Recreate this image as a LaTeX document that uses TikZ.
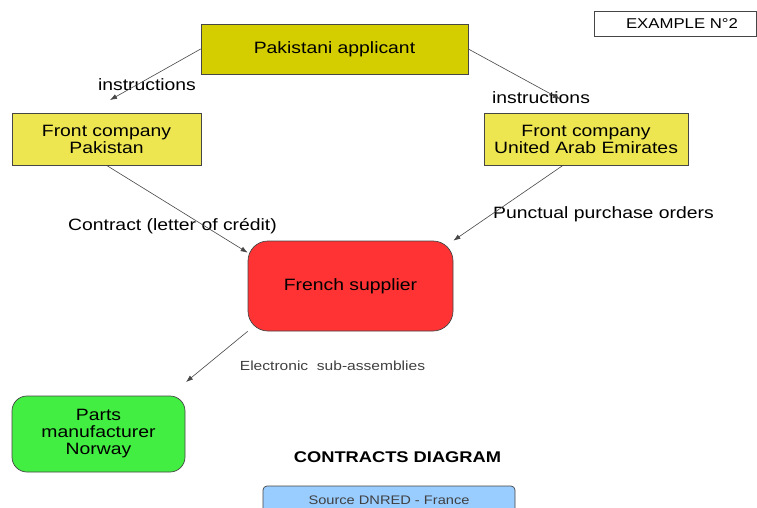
\documentclass[tikz,border=0pt]{standalone}
\usepackage{fontspec}
\setmainfont[FakeStretch=1.18]{Liberation Sans}
\usetikzlibrary{arrows.meta,calc}
\definecolor{olivey}{RGB}{212,206,0}
\definecolor{fcyel}{RGB}{237,230,80}
\definecolor{fsred}{RGB}{255,51,51}
\definecolor{pmgreen}{RGB}{66,238,66}
\definecolor{srcblue}{RGB}{153,204,255}
\definecolor{edge}{RGB}{70,70,70}
\tikzset{
  box/.style={draw=edge, line width=0.7pt, inner sep=0pt, align=center,
    font=\fontsize{16.4}{17}\selectfont},
  lbl/.style={inner sep=0pt, font=\fontsize{16.4}{17}\selectfont},
  conn/.style={draw=edge, line width=0.6pt, -{Latex[length=7pt,width=5pt]}}
}
\begin{document}
\begin{tikzpicture}[x=1pt,y=-1pt]
\useasboundingbox (0,0) rectangle (757,508);
\fill[white] (0,0) rectangle (757,508);
% example box
\node[box, minimum width=162pt, minimum height=25pt, font=\fontsize{14.2}{15}\selectfont] (ex) at (675,23.5) {\hspace*{14pt}EXAMPLE N°2};
% main nodes
\node[box, fill=olivey, minimum width=267pt, minimum height=50pt] (pa) at (334.5,49) {Pakistani applicant};
\node[box, fill=fcyel, minimum width=189pt, minimum height=52pt] (fcp) at (106.5,139) {Front company\\Pakistan};
\node[box, fill=fcyel, minimum width=204pt, minimum height=52pt] (uae) at (586,139) {Front company\\United Arab Emirates};
\node[box, fill=fsred, rounded corners=20pt, minimum width=205pt, minimum height=90pt] (fs) at (350.5,286) {French supplier};
\node[box, fill=pmgreen, rounded corners=15pt, minimum width=173pt, minimum height=76pt] (pm) at (98.5,434) {Parts\\manufacturer\\Norway};
\node[box, fill=srcblue, rounded corners=4pt, minimum width=252pt, minimum height=28pt, text=black!75, font=\fontsize{12.4}{13}\selectfont] (src) at (389,500) {Source DNRED - France};
% free ends
\coordinate (i1) at (110,100);
\coordinate (i2) at (560,99);
\coordinate (pmin) at (186,382);
% labels
\node[lbl] (l1) at (147,85) {instructions};
\node[lbl] (l2) at (541,98) {instructions};
\node[lbl] (l3) at (172.5,226) {Contract (letter of crédit)};
\node[lbl] (l4) at (603.5,214) {Punctual purchase orders};
\node[lbl, text=black!75, font=\fontsize{13.2}{14}\selectfont] (l5) at (332.5,366) {Electronic\ \ sub-assemblies};
\node[lbl, font=\bfseries\fontsize{15.5}{16}\selectfont] (title) at (397.5,457) {CONTRACTS DIAGRAM};
% connectors
\draw[conn] (pa.west) -- (i1);
\draw[conn] (pa.east) -- (i2);
\draw[conn] (fcp.south) -- ($(fs.north west)+(0,12)$);
\draw[conn] ($(uae.south)+(-23,0)$) -- (fs.north east);
\draw[conn] (fs.south west) -- (pmin);
\end{tikzpicture}
\end{document}
